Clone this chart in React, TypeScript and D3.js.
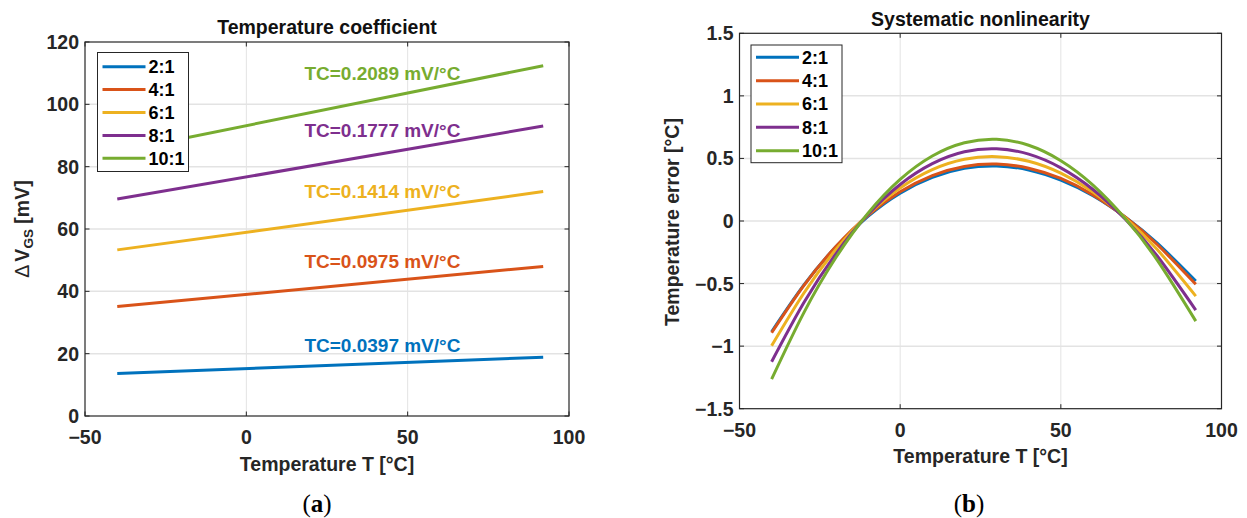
import React, { useEffect, useRef } from 'react';
import * as d3 from 'd3';

const ratios = ['2:1', '4:1', '6:1', '8:1', '10:1'];
const colors = ['#0072BD', '#D95319', '#EDB120', '#7E2F8E', '#77AC30'];

// (a) delta VGS over temperature, straight lines
const tcTemps = [-40, 92];
const dvgs2 = [13.6, 18.85];
const dvgs4 = [35.1, 48.0];
const dvgs6 = [53.3, 72.0];
const dvgs8 = [69.6, 93.05];
const dvgs10 = [84.8, 112.4];
const tcLabels = ['TC=0.0397 mV/°C', 'TC=0.0975 mV/°C', 'TC=0.1414 mV/°C', 'TC=0.1777 mV/°C', 'TC=0.2089 mV/°C'];
const tcLabelT = 18;
const tcLabelV = [20.6, 47.6, 69.9, 89.6, 107.8];

// (b) systematic nonlinearity
const errTemps = [-40, -30, -20, -10, 0, 10, 20, 30, 40, 50, 60, 70, 80, 92];
const err2 = [-0.885, -0.513, -0.206, 0.038, 0.223, 0.349, 0.421, 0.44, 0.408, 0.327, 0.202, 0.033, -0.177, -0.48];
const err4 = [-0.893, -0.516, -0.204, 0.045, 0.233, 0.363, 0.436, 0.455, 0.422, 0.34, 0.209, 0.032, -0.188, -0.506];
const err6 = [-0.997, -0.577, -0.228, 0.051, 0.263, 0.41, 0.493, 0.514, 0.477, 0.382, 0.231, 0.027, -0.228, -0.6];
const err8 = [-1.125, -0.654, -0.262, 0.053, 0.292, 0.458, 0.553, 0.577, 0.534, 0.425, 0.252, 0.016, -0.28, -0.712];
const err10 = [-1.264, -0.734, -0.292, 0.062, 0.332, 0.519, 0.625, 0.653, 0.605, 0.482, 0.287, 0.021, -0.313, -0.8];

const xTicks = [-50, 0, 50, 100];
const dvgsTicks = [0, 20, 40, 60, 80, 100, 120];
const errTicks = [-1.5, -1, -0.5, 0, 0.5, 1, 1.5];

const FONT = '"Liberation Sans", Arial, Helvetica, sans-serif';
const AX = '#262626';
const GRID = '#e3e3e3';

const fmt = (v) => String(v).replace('-', '\u2212');

const drawPanel = (root, p) => {
  const x = d3.scaleLinear().domain([-50, 100]).range([p.left, p.right]);
  const y = d3.scaleLinear().domain(p.yDomain).range([p.bottom, p.top]);
  const g = root.append('g').attr('font-family', FONT).attr('font-weight', 'bold');

  // grid
  g.selectAll('.vg').data(xTicks.slice(1, -1)).enter().append('line')
    .attr('x1', d => x(d)).attr('x2', d => x(d))
    .attr('y1', p.top).attr('y2', p.bottom)
    .attr('stroke', GRID).attr('stroke-width', 1);
  g.selectAll('.hg').data(p.yTicks.slice(1, -1)).enter().append('line')
    .attr('y1', d => y(d)).attr('y2', d => y(d))
    .attr('x1', p.left).attr('x2', p.right)
    .attr('stroke', GRID).attr('stroke-width', 1.5);

  // series
  const line = d3.line().x(d => x(d[0])).y(d => y(d[1])).curve(p.curve);
  p.series.forEach((vals, i) => {
    g.append('path')
      .attr('d', line(p.temps.map((t, j) => [t, vals[j]])))
      .attr('fill', 'none').attr('stroke', colors[i]).attr('stroke-width', 3)
      .attr('stroke-linejoin', 'round');
  });

  // box + inward ticks
  g.append('rect').attr('x', p.left).attr('y', p.top)
    .attr('width', p.right - p.left).attr('height', p.bottom - p.top)
    .attr('fill', 'none').attr('stroke', AX).attr('stroke-width', 1.2);
  const tl = 4.5;
  xTicks.forEach(t => {
    g.append('line').attr('x1', x(t)).attr('x2', x(t)).attr('y1', p.bottom).attr('y2', p.bottom - tl).attr('stroke', AX);
    g.append('line').attr('x1', x(t)).attr('x2', x(t)).attr('y1', p.top).attr('y2', p.top + tl).attr('stroke', AX);
  });
  p.yTicks.forEach(t => {
    g.append('line').attr('y1', y(t)).attr('y2', y(t)).attr('x1', p.left).attr('x2', p.left + tl).attr('stroke', AX);
    g.append('line').attr('y1', y(t)).attr('y2', y(t)).attr('x1', p.right).attr('x2', p.right - tl).attr('stroke', AX);
  });

  // tick labels
  g.selectAll('.xt').data(xTicks).enter().append('text')
    .attr('x', d => x(d)).attr('y', p.xTickBase)
    .attr('text-anchor', 'middle').attr('font-size', 19.5).attr('fill', AX)
    .text(d => fmt(d));
  g.selectAll('.yt').data(p.yTicks).enter().append('text')
    .attr('x', p.left - 6).attr('y', d => y(d)).attr('dy', '0.36em')
    .attr('text-anchor', 'end').attr('font-size', 19.5).attr('fill', AX)
    .text(d => fmt(d));

  // title and x label
  g.append('text').attr('x', (p.left + p.right) / 2).attr('y', p.titleBase)
    .attr('text-anchor', 'middle').attr('font-size', 19.5).attr('fill', '#111')
    .text(p.title);
  g.append('text').attr('x', (p.left + p.right) / 2).attr('y', p.xLabelBase)
    .attr('text-anchor', 'middle').attr('font-size', 19.5).attr('fill', AX)
    .text('Temperature T [°C]');

  // legend
  const lg = g.append('g');
  lg.append('rect').attr('x', p.legend.x).attr('y', p.legend.y)
    .attr('width', p.legend.w).attr('height', p.legend.h)
    .attr('fill', '#fff').attr('stroke', AX).attr('stroke-width', 1);
  ratios.forEach((r, i) => {
    const ry = p.legend.row0 + i * p.legend.step;
    lg.append('line').attr('x1', p.legend.x + 5).attr('x2', p.legend.x + 48)
      .attr('y1', ry).attr('y2', ry).attr('stroke', colors[i]).attr('stroke-width', 3);
    lg.append('text').attr('x', p.legend.x + 51).attr('y', ry).attr('dy', '0.36em')
      .attr('font-size', 18).attr('fill', '#000').text(r);
  });

  // caption
  const cap = root.append('text').attr('x', p.captionX).attr('y', 512)
    .attr('text-anchor', 'middle').attr('font-family', '"Liberation Serif", "DejaVu Serif", serif')
    .attr('font-size', 25).attr('fill', '#000');
  cap.append('tspan').text('(');
  cap.append('tspan').attr('font-weight', 'bold').text(p.caption);
  cap.append('tspan').text(')');

  return { x, y, g };
};

const App = () => {
  const ref = useRef(null);

  useEffect(() => {
    const svg = d3.select(ref.current);
    svg.selectAll('*').remove();
    svg.append('rect').attr('width', 1247).attr('height', 518).attr('fill', '#fff');

    const a = drawPanel(svg, {
      left: 85, right: 569, top: 42, bottom: 416,
      yDomain: [0, 120], yTicks: dvgsTicks,
      temps: tcTemps, series: [dvgs2, dvgs4, dvgs6, dvgs8, dvgs10], curve: d3.curveLinear,
      title: 'Temperature coefficient', titleBase: 34, xTickBase: 444, xLabelBase: 471,
      legend: { x: 97.5, y: 52.5, w: 91, h: 119, row0: 66.7, step: 22.9 },
      caption: 'a', captionX: 317,
    });
    // TC annotations
    tcLabels.forEach((t, i) => {
      a.g.append('text').attr('x', a.x(tcLabelT)).attr('y', a.y(tcLabelV[i]))
        .attr('font-size', 19).attr('fill', colors[i]).text(t);
    });
    // y label with subscript
    const yl = svg.append('text').attr('transform', 'translate(29,229) rotate(-90)')
      .attr('text-anchor', 'middle').attr('font-family', FONT).attr('font-weight', 'bold')
      .attr('font-size', 19.5).attr('fill', AX);
    yl.append('tspan').attr('font-weight', 'normal').text('Δ');
    yl.append('tspan').attr('dx', 3).text('V');
    yl.append('tspan').attr('font-size', 13.5).attr('dy', 4).text('GS');
    yl.append('tspan').attr('dy', -4).text(' [mV]');

    drawPanel(svg, {
      left: 739.5, right: 1221.5, top: 33.3, bottom: 408.7,
      yDomain: [-1.5, 1.5], yTicks: errTicks,
      temps: errTemps, series: [err2, err4, err6, err8, err10], curve: d3.curveNatural,
      title: 'Systematic nonlinearity', titleBase: 26, xTickBase: 437, xLabelBase: 462.5,
      legend: { x: 751, y: 45, w: 91, h: 117.7, row0: 57.3, step: 23.35 },
      caption: 'b', captionX: 969,
    });
    svg.append('text').attr('transform', 'translate(679,222) rotate(-90)')
      .attr('text-anchor', 'middle').attr('font-family', FONT).attr('font-weight', 'bold')
      .attr('font-size', 19.5).attr('fill', AX).text('Temperature error [°C]');
  }, []);

  return (
    <svg ref={ref} width={1247} height={518}
      style={{ position: 'absolute', left: 0, top: 0, display: 'block' }} />
  );
};

export default App;
